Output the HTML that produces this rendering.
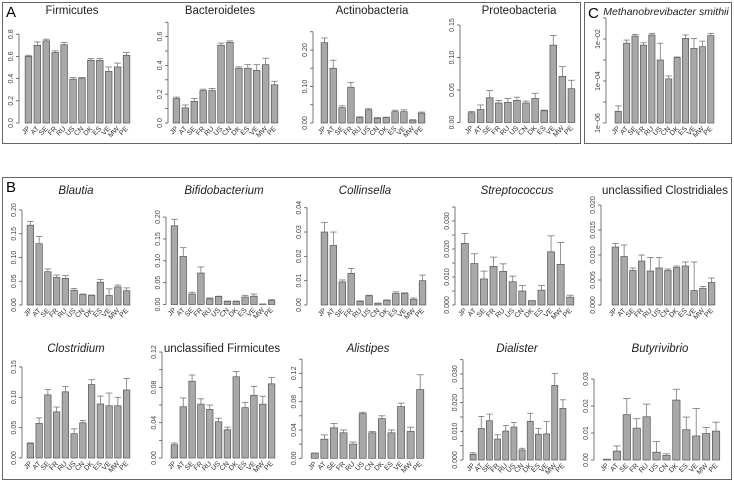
<!DOCTYPE html>
<html><head><meta charset="utf-8">
<style>
html,body{margin:0;padding:0;background:#fff;}
svg{display:block;font-family:"Liberation Sans",sans-serif;}
</style></head>
<body>
<svg id="fig" width="734" height="482" viewBox="0 0 734 482">
<rect x="2.5" y="2.5" width="578" height="141" fill="none" stroke="#666"/>
<rect x="584.5" y="2.5" width="147" height="141" fill="none" stroke="#666"/>
<rect x="2.5" y="177.5" width="729" height="302" fill="none" stroke="#666"/>
<text x="6" y="17" font-size="15">A</text>
<text x="588" y="18" font-size="15">C</text>
<text x="6" y="192" font-size="15">B</text>
</svg>
<script>
const countries = ["JP","AT","SE","FR","RU","US","CN","DK","ES","VE","MW","PE"];

const firmicutesMean = [0.60,0.70,0.74,0.635,0.705,0.395,0.405,0.565,0.565,0.465,0.505,0.61];
const firmicutesErr  = [0.01,0.03,0.015,0.015,0.02,0.015,0.005,0.015,0.015,0.04,0.035,0.025];
const bacteroidetesMean = [0.17,0.105,0.15,0.225,0.225,0.54,0.56,0.38,0.38,0.365,0.405,0.265];
const bacteroidetesErr  = [0.01,0.02,0.02,0.01,0.015,0.015,0.01,0.01,0.025,0.04,0.045,0.025];
const actinoMean = [0.22,0.15,0.042,0.098,0.015,0.036,0.013,0.015,0.031,0.031,0.008,0.027];
const actinoErr  = [0.013,0.022,0.005,0.013,0.002,0.003,0.002,0.001,0.004,0.005,0.001,0.003];
const proteoMean = [0.015,0.02,0.038,0.03,0.031,0.034,0.03,0.037,0.018,0.119,0.071,0.052];
const proteoErr  = [0.002,0.007,0.011,0.004,0.006,0.005,0.003,0.008,0.001,0.015,0.015,0.013];
const smithiiMean = [3.6e-6,6.3e-3,1.38e-2,5.1e-3,1.55e-2,1e-3,1.26e-4,1.29e-3,1.07e-2,3.6e-3,4.3e-3,1.45e-2];
const smithiiErr  = [2.9e-6,2.6e-3,2.8e-3,1.5e-3,3.1e-3,5.3e-3,4.8e-5,1e-4,4.8e-3,7.1e-3,3.6e-3,4.1e-3];
const blautiaMean = [0.168,0.129,0.07,0.058,0.056,0.031,0.022,0.02,0.048,0.02,0.038,0.03];
const blautiaErr  = [0.008,0.015,0.006,0.005,0.006,0.004,0.001,0.001,0.006,0.014,0.004,0.006];
const bifidoMean = [0.18,0.11,0.024,0.072,0.013,0.018,0.007,0.007,0.017,0.019,0.001,0.009];
const bifidoErr  = [0.015,0.02,0.004,0.014,0.002,0.001,0.001,0.001,0.004,0.005,0.0002,0.002];
const collinsellaMean = [0.030,0.0245,0.0095,0.013,0.0015,0.0038,0.0007,0.0019,0.0047,0.0048,0.0023,0.010];
const collinsellaErr  = [0.004,0.0055,0.0008,0.002,0.0002,0.0002,0.0001,0.0002,0.0007,0.0002,0.0006,0.0023];
const streptoMean = [0.022,0.0148,0.0093,0.0138,0.012,0.0083,0.005,0.0015,0.0053,0.019,0.0145,0.0028];
const streptoErr  = [0.0035,0.0035,0.0028,0.0033,0.0027,0.002,0.002,0.0001,0.0017,0.0057,0.0078,0.0007];
const uclostMean = [0.0116,0.0097,0.0069,0.0088,0.0068,0.0074,0.0069,0.0075,0.0078,0.0029,0.0033,0.0045];
const uclostErr  = [0.0007,0.0023,0.0005,0.0012,0.0027,0.0021,0.0003,0.0003,0.0008,0.0057,0.0004,0.0009];
const clostridiumMean = [0.024,0.057,0.104,0.076,0.109,0.04,0.058,0.121,0.089,0.086,0.086,0.112];
const clostridiumErr  = [0.001,0.009,0.009,0.008,0.009,0.008,0.004,0.008,0.013,0.021,0.014,0.019];
const ufirmMean = [0.015,0.058,0.087,0.061,0.055,0.041,0.032,0.092,0.057,0.071,0.061,0.084];
const ufirmErr  = [0.002,0.01,0.007,0.006,0.005,0.004,0.003,0.006,0.006,0.01,0.009,0.007];
const alistipesMean = [0.007,0.027,0.043,0.036,0.02,0.063,0.036,0.056,0.036,0.073,0.038,0.097];
const alistipesErr  = [0.0005,0.006,0.006,0.004,0.003,0.002,0.002,0.004,0.004,0.005,0.006,0.021];
const dialisterMean = [0.002,0.011,0.0137,0.0073,0.0101,0.0115,0.0035,0.0135,0.009,0.0091,0.026,0.018];
const dialisterErr  = [0.0005,0.0042,0.0023,0.0015,0.0019,0.0016,0.0006,0.0028,0.002,0.0043,0.0042,0.003];
const butyMean = [0.0002,0.0033,0.0168,0.0118,0.016,0.0029,0.0017,0.0222,0.0112,0.0089,0.0098,0.0107];
const butyErr  = [0.0001,0.0019,0.006,0.0035,0.0047,0.0039,0.0006,0.004,0.0047,0.0102,0.0022,0.0033];

const firmTicks=[0,0.2,0.4,0.6,0.8], firmLabels=["0.0","0.2","0.4","0.6","0.8"];
const bactTicks=[0,0.1,0.2,0.3,0.4,0.5,0.6,0.7], bactLabels=["0.0","","0.2","","0.4","","0.6",""];
const actTicks=[0,0.05,0.1,0.15,0.2,0.25], actLabels=["0.00","","0.10","","0.20",""];
const proTicks=[0,0.05,0.1,0.15], proLabels=["0.00","0.05","0.10","0.15"];
const smiTicks=[-6,-5,-4,-3,-2,-1], smiLabels=["1e\u221206","","1e\u221204","","1e\u221202",""];
const blaTicks=[0,0.05,0.1,0.15,0.2], blaLabels=["0.00","0.05","0.10","0.15","0.20"];
const colTicks=[0,0.01,0.02,0.03,0.04], colLabels=["0.00","0.01","0.02","0.03","0.04"];
const strTicks=[0,0.005,0.01,0.015,0.02,0.025,0.03,0.035], strLabels=["0.000","","0.010","","0.020","","0.030",""];
const uclTicks=[0,0.005,0.01,0.015,0.02], uclLabels=["0.000","0.005","0.010","0.015","0.020"];
const cloTicks=[0,0.05,0.1,0.15], cloLabels=["0.00","0.05","0.10","0.15"];
const ufiTicks=[0,0.02,0.04,0.06,0.08,0.1,0.12], ufiLabels=["0.00","","0.04","","0.08","","0.12"];
const aliTicks=[0,0.02,0.04,0.06,0.08,0.1,0.12,0.14], aliLabels=["0.00","","0.04","","0.08","","0.12",""];
const diaTicks=[0,0.005,0.01,0.015,0.02,0.025,0.03,0.035], diaLabels=["0.000","","0.010","","0.020","","0.030",""];
const butTicks=[0,0.01,0.02,0.03], butLabels=["0.00","0.01","0.02","0.03"];

const NS="http://www.w3.org/2000/svg";
const svg=document.getElementById('fig');
function mk(tag,attrs,parent){const e=document.createElementNS(NS,tag);for(const k in attrs)e.setAttribute(k,attrs[k]);(parent||svg).appendChild(e);return e;}

function panel(name,title,italic,titleX,titleY,geom,mean,err,ticks,labels,log){
  const g=mk('g',{});
  
  
  const tr = v => log ? Math.log10(v) : v;
  const y = v => geom.base - (tr(v)-geom.v0)*geom.scale;
  const t=mk('text',{x:titleX,y:titleY,'font-size':geom.ts||11.5,'text-anchor':'middle','font-style':italic?'italic':'normal',fill:'#222'},g);
  t.textContent=title;
  
  
  const ty = v => geom.base-(v-geom.v0)*geom.scale;
  const ax=mk('line',{x1:geom.ax,x2:geom.ax,y1:ty(ticks[0]),y2:ty(ticks[ticks.length-1]),stroke:'#555','stroke-width':0.8},g);
  
  
  ticks.forEach((tv,i)=>{
    mk('line',{x1:geom.ax-3,x2:geom.ax,y1:ty(tv),y2:ty(tv),stroke:'#555','stroke-width':0.8},g);
    if(labels[i]){
      const yy=ty(tv), xx=geom.ax-6;
      const l=mk('text',{x:xx,y:yy,'font-size':7,'text-anchor':'middle',fill:'#444',transform:`rotate(-90 ${xx} ${yy})`},g);
      l.textContent=labels[i];
      
      
    }
  });
  const n=mean.length, step=(geom.x1-geom.x0)/n, bw=step*0.74;
  mean.forEach((m,i)=>{
    const cx=geom.x0+step*(i+0.5);
    const top=y(m);
    const r=mk('rect',{x:cx-bw/2,y:Math.min(top,geom.base),width:bw,height:Math.abs(geom.base-top),fill:'#a8a8a8',stroke:'#555','stroke-width':0.7},g);
    
    
    const et=y(m+err[i]);
    mk('line',{x1:cx,x2:cx,y1:top,y2:et,stroke:'#777','stroke-width':0.8},g);
    mk('line',{x1:cx-bw/2,x2:cx+bw/2,y1:et,y2:et,stroke:'#777','stroke-width':0.8},g);
    const lx=cx+2, ly=geom.base+6;
    const xl=mk('text',{x:lx,y:ly,'font-size':7,'text-anchor':'end',fill:'#333',transform:`rotate(-45 ${lx} ${ly})`},g);
    xl.textContent=countries[i];
    
    
  });
}

panel('firmicutes','Firmicutes',false,72,14,{ax:19,x0:24,x1:131,base:123,v0:0,scale:111},firmicutesMean,firmicutesErr,firmTicks,firmLabels);
panel('bacteroidetes','Bacteroidetes',false,220,14,{ax:168,x0:172,x1:279,base:123,v0:0,scale:144},bacteroidetesMean,bacteroidetesErr,bactTicks,bactLabels);
panel('actinobacteria','Actinobacteria',false,372,14,{ax:313,x0:320,x1:426,base:123,v0:0,scale:365},actinoMean,actinoErr,actTicks,actLabels);
panel('proteobacteria','Proteobacteria',false,519,14,{ax:460,x0:467,x1:576,base:122.5,v0:0,scale:650},proteoMean,proteoErr,proTicks,proLabels);
panel('m-smithii','Methanobrevibacter smithii',true,666,15,{ax:606,x0:614,x1:715,base:123,v0:-6,scale:21,ts:10.5},smithiiMean,smithiiErr,smiTicks,smiLabels,true);

panel('blautia','Blautia',true,76,194,{ax:22,x0:26,x1:131,base:305,v0:0,scale:475},blautiaMean,blautiaErr,blaTicks,blaLabels);
panel('bifidobacterium','Bifidobacterium',true,224,194,{ax:166,x0:170,x1:276,base:304.5,v0:0,scale:437},bifidoMean,bifidoErr,blaTicks,blaLabels);
panel('collinsella','Collinsella',true,365,194,{ax:307,x0:320,x1:427,base:305,v0:0,scale:2432},collinsellaMean,collinsellaErr,colTicks,colLabels);
panel('streptococcus','Streptococcus',true,517,194,{ax:455,x0:460,x1:575,base:305,v0:0,scale:2800},streptoMean,streptoErr,strTicks,strLabels);
panel('unclassified-clostridiales','unclassified Clostridiales',false,665,194,{ax:601,x0:611,x1:716,base:305,v0:0,scale:5000},uclostMean,uclostErr,uclTicks,uclLabels);

panel('clostridium','Clostridium',true,76,352,{ax:22,x0:26,x1:131,base:458,v0:0,scale:607},clostridiumMean,clostridiumErr,cloTicks,cloLabels);
panel('unclassified-firmicutes','unclassified Firmicutes',false,222,352,{ax:162,x0:170,x1:276,base:458,v0:0,scale:883},ufirmMean,ufirmErr,ufiTicks,ufiLabels);
panel('alistipes','Alistipes',true,368,352,{ax:302,x0:310,x1:425,base:458.3,v0:0,scale:708},alistipesMean,alistipesErr,aliTicks,aliLabels);
panel('dialister','Dialister',true,517,352,{ax:463,x0:469,x1:567,base:460,v0:0,scale:2867},dialisterMean,dialisterErr,diaTicks,diaLabels);
panel('butyrivibrio','Butyrivibrio',true,660,352,{ax:594,x0:602,x1:721,base:460,v0:0,scale:2700},butyMean,butyErr,butTicks,butLabels);
</script>
</body></html>
